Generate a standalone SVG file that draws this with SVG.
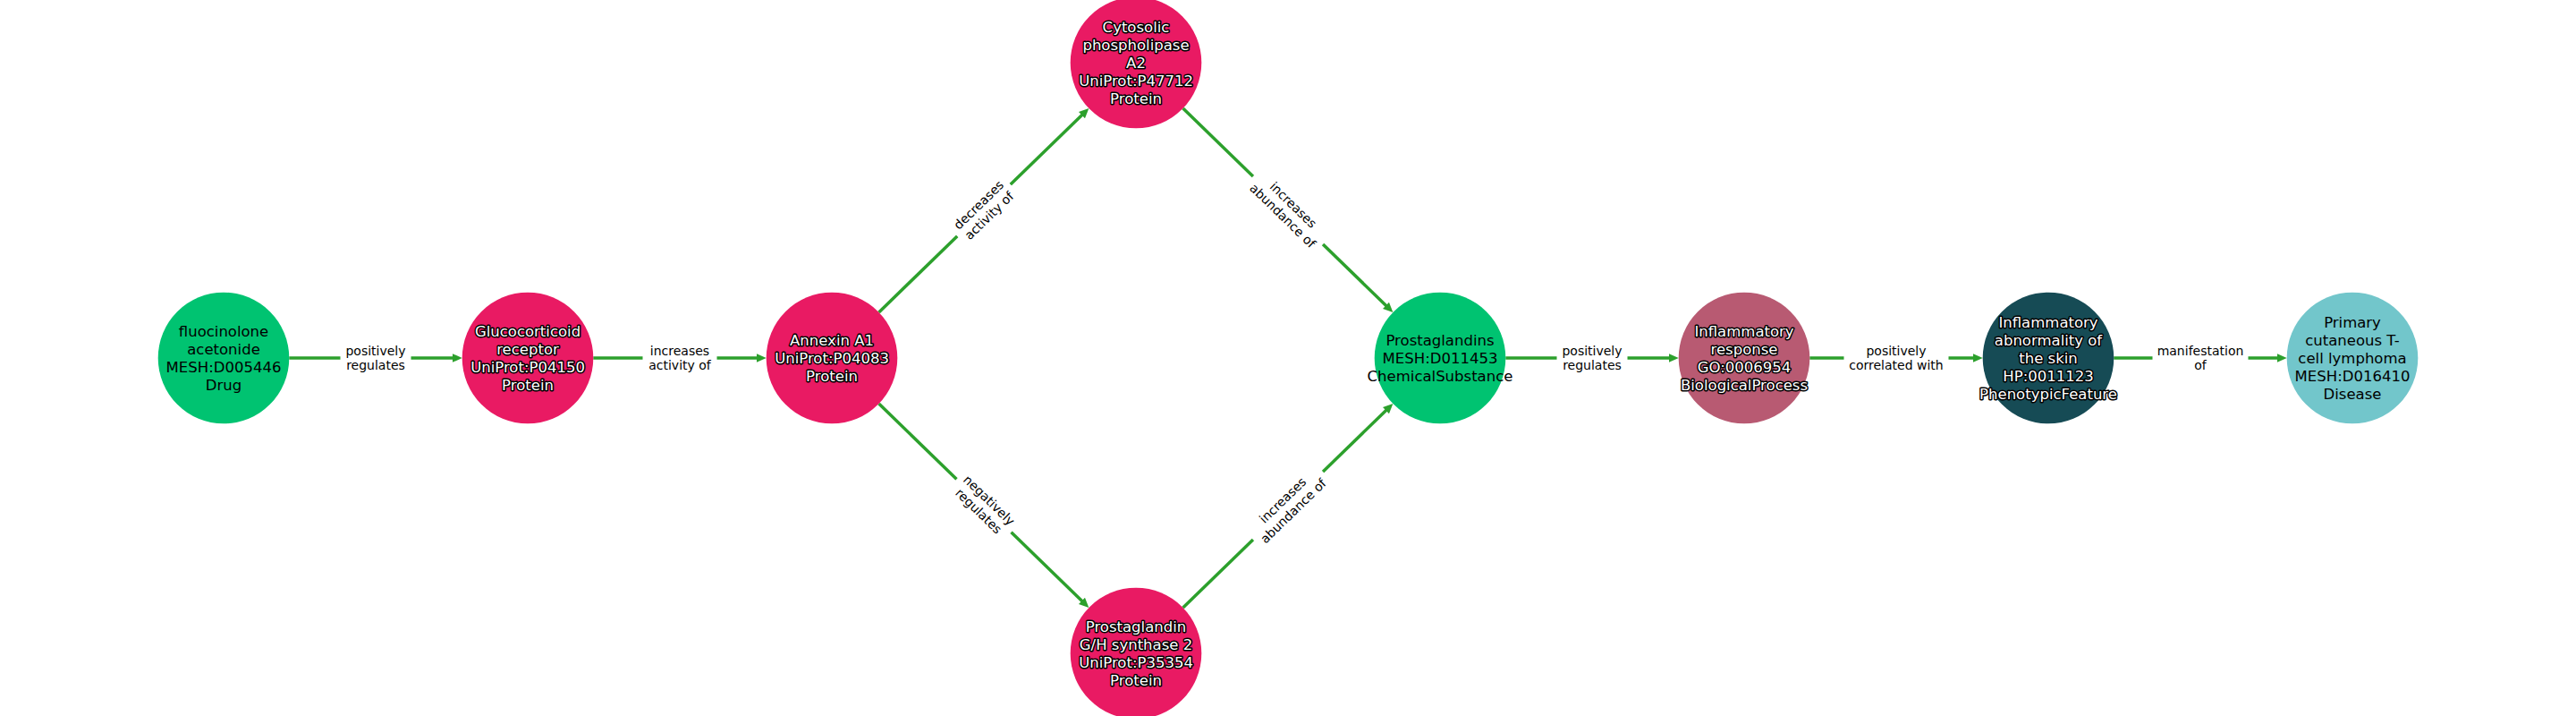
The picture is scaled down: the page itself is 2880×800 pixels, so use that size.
<svg xmlns="http://www.w3.org/2000/svg" width="2880" height="800" viewBox="0 0 2880 800">
<style>
.edge{stroke:#2ca02c;stroke-width:3.5;fill:none}
.lbg{fill:#ffffff;stroke:#ffffff;stroke-width:1}
.lt{font-family:"DejaVu Sans",sans-serif;font-size:14px;fill:#000000;text-anchor:middle}
.nt{font-family:"DejaVu Sans",sans-serif;font-size:16.5px;text-anchor:middle}
.dark{fill:#000000}
.light{fill:#ffffff;stroke:#000000;stroke-width:3;stroke-linejoin:round;paint-order:stroke}
.drug{fill:#00c371}
.protein{fill:#e91a63}
.chem{fill:#00c371}
.bp{fill:#b85a72}
.pheno{fill:#164b55}
.disease{fill:#72c6cb}
</style>
<defs>
<marker id="arr" markerUnits="userSpaceOnUse" markerWidth="12" markerHeight="11" viewBox="0 0 12 11" refX="1" refY="5.5" orient="auto">
<path d="M0,0.5 L11,5.5 L0,10.5 Z" fill="#2ca02c"/>
</marker>
</defs>
<rect width="2880" height="800" fill="#ffffff"/>
<g id="connectors">
<g id="e1">
<line class="edge" x1="323.3" y1="400" x2="506.7" y2="400" marker-end="url(#arr)"/>
<g transform="translate(420,400)"><rect class="lbg" x="-39" y="-22" width="78" height="44" rx="4"/><text class="lt" y="-3.5">positively</text><text class="lt" y="13.3">regulates</text></g>
</g>
<g id="e2">
<line class="edge" x1="663.3" y1="400" x2="846.7" y2="400" marker-end="url(#arr)"/>
<g transform="translate(760,400)"><rect class="lbg" x="-41" y="-22" width="82" height="44" rx="4"/><text class="lt" y="-3.5">increases</text><text class="lt" y="13.3">activity of</text></g>
</g>
<g id="e3">
<line class="edge" x1="982.6" y1="348.9" x2="1210.2" y2="128.0" marker-end="url(#arr)"/>
<g transform="translate(1100,235) rotate(-44.14)"><rect class="lbg" x="-41" y="-22" width="82" height="44" rx="4"/><text class="lt" y="-3.5">decreases</text><text class="lt" y="13.3">activity of</text></g>
</g>
<g id="e4">
<line class="edge" x1="1322.6" y1="121.05" x2="1550.2" y2="342.0" marker-end="url(#arr)"/>
<g transform="translate(1440,235) rotate(44.14)"><rect class="lbg" x="-54" y="-22" width="108" height="44" rx="4"/><text class="lt" y="-3.5">increases</text><text class="lt" y="13.3">abundance of</text></g>
</g>
<g id="e5">
<line class="edge" x1="982.6" y1="451.05" x2="1210.2" y2="672.0" marker-end="url(#arr)"/>
<g transform="translate(1100,565) rotate(44.14)"><rect class="lbg" x="-42" y="-22" width="84" height="44" rx="4"/><text class="lt" y="-3.5">negatively</text><text class="lt" y="13.3">regulates</text></g>
</g>
<g id="e6">
<line class="edge" x1="1322.6" y1="678.95" x2="1550.2" y2="458.0" marker-end="url(#arr)"/>
<g transform="translate(1440,565) rotate(-44.14)"><rect class="lbg" x="-54" y="-22" width="108" height="44" rx="4"/><text class="lt" y="-3.5">increases</text><text class="lt" y="13.3">abundance of</text></g>
</g>
<g id="e7">
<line class="edge" x1="1683.3" y1="400" x2="1866.7" y2="400" marker-end="url(#arr)"/>
<g transform="translate(1780,400)"><rect class="lbg" x="-39" y="-22" width="78" height="44" rx="4"/><text class="lt" y="-3.5">positively</text><text class="lt" y="13.3">regulates</text></g>
</g>
<g id="e8">
<line class="edge" x1="2023.3" y1="400" x2="2206.7" y2="400" marker-end="url(#arr)"/>
<g transform="translate(2120,400)"><rect class="lbg" x="-58" y="-22" width="116" height="44" rx="4"/><text class="lt" y="-3.5">positively</text><text class="lt" y="13.3">correlated with</text></g>
</g>
<g id="e9">
<line class="edge" x1="2363.3" y1="400" x2="2546.7" y2="400" marker-end="url(#arr)"/>
<g transform="translate(2460,400)"><rect class="lbg" x="-53" y="-22" width="106" height="44" rx="4"/><text class="lt" y="-3.5">manifestation</text><text class="lt" y="13.3">of</text></g>
</g>
</g>
<g id="n1" transform="translate(250,400)">
<circle class="drug" r="73.3"/>
<text class="nt dark" y="-24.3">fluocinolone</text><text class="nt dark" y="-4.1">acetonide</text><text class="nt dark" y="16.1">MESH:D005446</text><text class="nt dark" y="36.3">Drug</text>
</g>
<g id="n2" transform="translate(590,400)">
<circle class="protein" r="73.3"/>
<text class="nt light" y="-24.3">Glucocorticoid</text><text class="nt light" y="-4.1">receptor</text><text class="nt light" y="16.1">UniProt:P04150</text><text class="nt light" y="36.3">Protein</text>
</g>
<g id="n3" transform="translate(930,400)">
<circle class="protein" r="73.3"/>
<text class="nt light" y="-14.2">Annexin A1</text><text class="nt light" y="6">UniProt:P04083</text><text class="nt light" y="26.2">Protein</text>
</g>
<g id="n4" transform="translate(1270,70)">
<circle class="protein" r="73.3"/>
<text class="nt light" y="-34.4">Cytosolic</text><text class="nt light" y="-14.2">phospholipase</text><text class="nt light" y="6">A2</text><text class="nt light" y="26.2">UniProt:P47712</text><text class="nt light" y="46.4">Protein</text>
</g>
<g id="n5" transform="translate(1270,730)">
<circle class="protein" r="73.3"/>
<text class="nt light" y="-24.3">Prostaglandin</text><text class="nt light" y="-4.1">G/H synthase 2</text><text class="nt light" y="16.1">UniProt:P35354</text><text class="nt light" y="36.3">Protein</text>
</g>
<g id="n6" transform="translate(1610,400)">
<circle class="chem" r="73.3"/>
<text class="nt dark" y="-14.2">Prostaglandins</text><text class="nt dark" y="6">MESH:D011453</text><text class="nt dark" y="26.2">ChemicalSubstance</text>
</g>
<g id="n7" transform="translate(1950,400)">
<circle class="bp" r="73.3"/>
<text class="nt light" y="-24.3">Inflammatory</text><text class="nt light" y="-4.1">response</text><text class="nt light" y="16.1">GO:0006954</text><text class="nt light" y="36.3">BiologicalProcess</text>
</g>
<g id="n8" transform="translate(2290,400)">
<circle class="pheno" r="73.3"/>
<text class="nt light" y="-34.4">Inflammatory</text><text class="nt light" y="-14.2">abnormality of</text><text class="nt light" y="6">the skin</text><text class="nt light" y="26.2">HP:0011123</text><text class="nt light" y="46.4">PhenotypicFeature</text>
</g>
<g id="n9" transform="translate(2630,400)">
<circle class="disease" r="73.3"/>
<text class="nt dark" y="-34.4">Primary</text><text class="nt dark" y="-14.2">cutaneous T-</text><text class="nt dark" y="6">cell lymphoma</text><text class="nt dark" y="26.2">MESH:D016410</text><text class="nt dark" y="46.4">Disease</text>
</g>
</svg>
